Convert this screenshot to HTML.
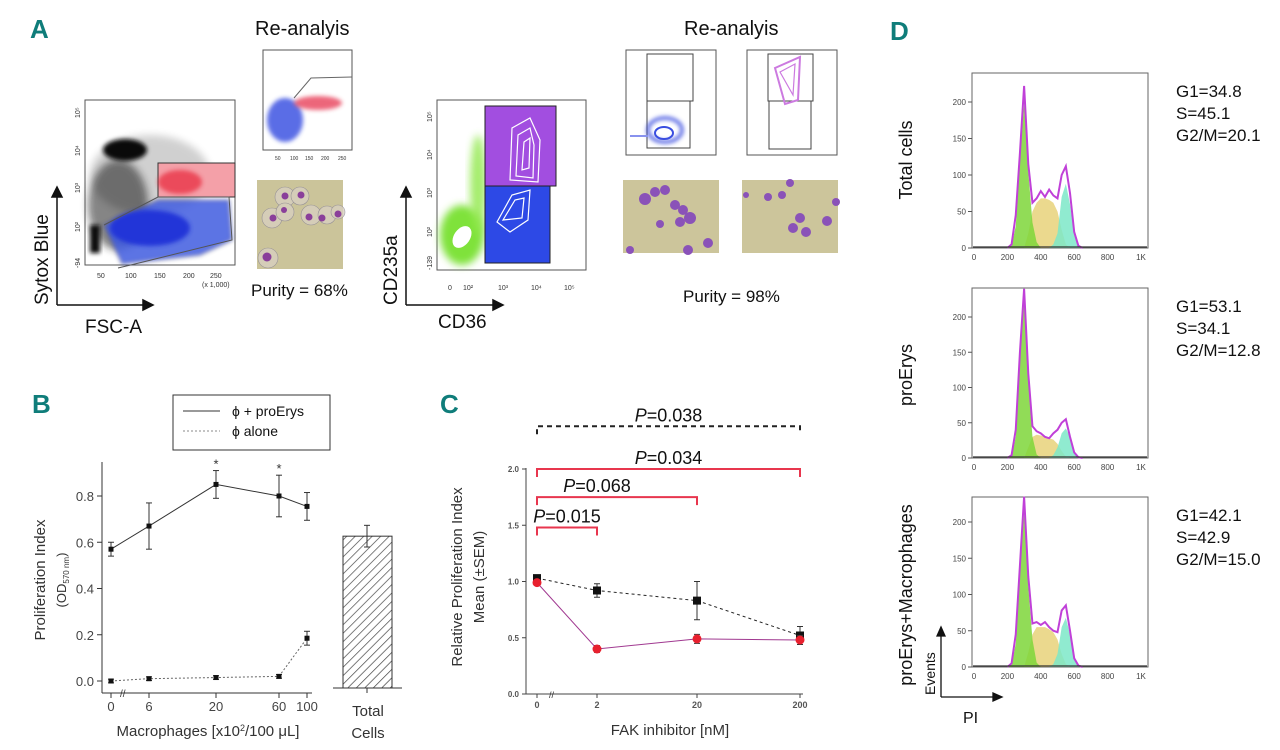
<!DOCTYPE html>
<html><head><meta charset="utf-8">
<style>
html,body{margin:0;padding:0;background:#fff;}
svg{display:block;font-family:"Liberation Sans",sans-serif;}
.pl{font-family:"Liberation Sans",sans-serif;font-weight:bold;fill:#0f7d7a;font-size:26px;}
.t{fill:#111;}
</style></head>
<body>
<svg id="fig" width="1280" height="750" viewBox="0 0 1280 750">
<defs>
<filter id="bl" x="-30%" y="-30%" width="160%" height="160%"><feGaussianBlur stdDeviation="4"/></filter>
<filter id="bl2" x="-30%" y="-30%" width="160%" height="160%"><feGaussianBlur stdDeviation="2"/></filter>
<pattern id="hatch" width="6" height="6" patternUnits="userSpaceOnUse" patternTransform="rotate(45)"><rect width="6" height="6" fill="#fff"/><line x1="0" y1="0" x2="0" y2="6" stroke="#444" stroke-width="1.4"/></pattern>
</defs>

<!-- PANEL A -->
<g>
<text class="pl" x="30" y="38">A</text>
<g>
<rect x="85" y="100" width="150" height="165" fill="#fff" stroke="#555" stroke-width="1"/>
<ellipse cx="118" cy="205" rx="30" ry="45" fill="#222" opacity="0.55" filter="url(#bl)"/>
<ellipse cx="125" cy="150" rx="22" ry="11" fill="#111" filter="url(#bl2)"/>
<ellipse cx="150" cy="175" rx="60" ry="40" fill="#000" opacity="0.18" filter="url(#bl)"/>
<rect x="90" y="225" width="10" height="28" fill="#111" filter="url(#bl2)"/>
<rect x="158" y="163" width="77" height="34" fill="#f4a0a8" stroke="#333" stroke-width="1"/>
<ellipse cx="180" cy="182" rx="22" ry="12" fill="#e8263a" opacity="0.7" filter="url(#bl2)"/>
<polygon points="104,225 158,200 229,200 232,240 200,255 122,264" fill="#3f5be0" opacity="0.85" stroke="#555" filter="url(#bl2)"/>
<ellipse cx="150" cy="228" rx="40" ry="18" fill="#2436d8" filter="url(#bl2)"/>
<polyline points="104,225 158,197 229,197 232,240 143,262 118,268" fill="none" stroke="#555" stroke-width="1"/>
<g font-size="7" fill="#333"><text x="97" y="278">50</text><text x="125" y="278">100</text><text x="154" y="278">150</text><text x="183" y="278">200</text><text x="210" y="278">250</text><text x="202" y="287">(x 1,000)</text></g>
<g font-size="7" fill="#333"><text transform="translate(80,118) rotate(-90)">10⁵</text><text transform="translate(80,156) rotate(-90)">10⁴</text><text transform="translate(80,193) rotate(-90)">10³</text><text transform="translate(80,232) rotate(-90)">10²</text><text transform="translate(80,268) rotate(-90)">-94</text></g>
</g>
<g stroke="#111" stroke-width="1.5" fill="#111">
<line x1="57" y1="305" x2="57" y2="195"/><polygon points="52,197 62,197 57,187"/>
<line x1="57" y1="305" x2="145" y2="305"/><polygon points="143,300 143,310 153,305"/>
</g>
<text class="t" font-size="19" transform="translate(48,305) rotate(-90)">Sytox Blue</text>
<text class="t" font-size="19" x="85" y="333">FSC-A</text>
<text class="t" font-size="20" x="255" y="35">Re-analyis</text>
<g>
<rect x="263" y="50" width="89" height="100" fill="#fff" stroke="#555"/>
<ellipse cx="285" cy="120" rx="18" ry="22" fill="#3248e0" opacity="0.8" filter="url(#bl2)"/>
<ellipse cx="318" cy="103" rx="24" ry="7" fill="#e8405a" opacity="0.8" filter="url(#bl2)"/>
<polyline points="294,98 311,78 352,77 M294,98 298,114 352,109" fill="none" stroke="#666"/>
<g font-size="5" fill="#333"><text x="275" y="160">50</text><text x="290" y="160">100</text><text x="305" y="160">150</text><text x="321" y="160">200</text><text x="338" y="160">250</text></g>
</g>
<g>
<rect x="257" y="180" width="86" height="89" fill="#cbc49a"/>
<g fill="#d8d0c0" stroke="#8a8595" stroke-width="0.6" opacity="0.8">
<circle cx="285" cy="197" r="10"/><circle cx="300" cy="196" r="9"/><circle cx="272" cy="218" r="10"/><circle cx="285" cy="212" r="9"/><circle cx="311" cy="215" r="10"/><circle cx="327" cy="215" r="9"/><circle cx="338" cy="212" r="7"/><circle cx="268" cy="258" r="10"/></g>
<g fill="#8a3f9a"><circle cx="285" cy="196" r="3.5"/><circle cx="301" cy="195" r="3.5"/><circle cx="273" cy="218" r="3.5"/><circle cx="284" cy="210" r="3"/><circle cx="309" cy="217" r="3.5"/><circle cx="322" cy="218" r="3.5"/><circle cx="338" cy="214" r="3.5"/><circle cx="267" cy="257" r="4.5"/></g>
</g>
<text class="t" font-size="17" x="251" y="296">Purity = 68%</text>

<g>
<rect x="437" y="100" width="149" height="170" fill="#fff" stroke="#555"/>
<ellipse cx="462" cy="235" rx="22" ry="30" fill="#7fe23a" filter="url(#bl)"/>
<ellipse cx="478" cy="185" rx="8" ry="50" fill="#8fe84a" opacity="0.8" filter="url(#bl)"/>
<ellipse cx="462" cy="237" rx="8" ry="12" fill="#fff" transform="rotate(35 462 237)"/>
<rect x="485" y="106" width="71" height="80" fill="#a24ee0"/>
<rect x="485" y="186" width="65" height="77" fill="#2d49e6"/>
<g fill="none" stroke="#fff" stroke-width="1.2">
<path d="M510,180 L512,128 L530,118 L540,140 L538,182Z"/><path d="M516,176 L518,135 L530,128 L534,145 L533,178Z"/><path d="M522,170 L524,142 L530,138 L529,168Z"/>
<path d="M497,222 L512,195 L530,190 L528,220 L510,232Z"/><path d="M503,220 L515,200 L524,198 L522,218Z"/>
</g>
<rect x="485" y="106" width="71" height="80" fill="none" stroke="#222"/>
<rect x="485" y="186" width="65" height="77" fill="none" stroke="#222"/>
<g font-size="7" fill="#333"><text x="448" y="290">0</text><text x="463" y="290">10²</text><text x="498" y="290">10³</text><text x="531" y="290">10⁴</text><text x="564" y="290">10⁵</text></g>
<g font-size="7" fill="#333"><text transform="translate(432,122) rotate(-90)">10⁵</text><text transform="translate(432,160) rotate(-90)">10⁴</text><text transform="translate(432,198) rotate(-90)">10³</text><text transform="translate(432,237) rotate(-90)">10²</text><text transform="translate(432,270) rotate(-90)">-139</text></g>
</g>
<g stroke="#111" stroke-width="1.5" fill="#111">
<line x1="406" y1="305" x2="406" y2="195"/><polygon points="401,197 411,197 406,187"/>
<line x1="406" y1="305" x2="495" y2="305"/><polygon points="493,300 493,310 503,305"/>
</g>
<text class="t" font-size="19" transform="translate(397,305) rotate(-90)">CD235a</text>
<text class="t" font-size="19" x="438" y="328">CD36</text>
<text class="t" font-size="20" x="684" y="35">Re-analyis</text>
<g>
<rect x="626" y="50" width="90" height="105" fill="#fff" stroke="#555"/>
<rect x="647" y="54" width="46" height="47" fill="none" stroke="#444"/>
<rect x="647" y="101" width="43" height="47" fill="none" stroke="#444"/>
<ellipse cx="665" cy="130" rx="17" ry="12" fill="none" stroke="#3a4ee0" stroke-width="3" filter="url(#bl2)"/>
<ellipse cx="664" cy="133" rx="9" ry="6" fill="none" stroke="#3a4ee0" stroke-width="2"/>
<line x1="630" y1="136" x2="648" y2="136" stroke="#8892ee" stroke-width="2"/>
</g>
<g>
<rect x="747" y="50" width="90" height="105" fill="#fff" stroke="#555"/>
<rect x="768" y="54" width="45" height="47" fill="none" stroke="#444"/>
<rect x="769" y="101" width="42" height="48" fill="none" stroke="#444"/>
<polygon points="775,68 800,57 798,100 785,104" fill="none" stroke="#cc7ae0" stroke-width="2"/>
<polygon points="780,72 795,64 793,95" fill="none" stroke="#cc7ae0" stroke-width="1.2"/>
</g>
<g>
<rect x="623" y="180" width="96" height="73" fill="#ccc59b"/>
<g fill="#8a52b8"><circle cx="645" cy="199" r="6"/><circle cx="655" cy="192" r="5"/><circle cx="665" cy="190" r="5"/><circle cx="675" cy="205" r="5"/><circle cx="683" cy="210" r="5"/><circle cx="690" cy="218" r="6"/><circle cx="680" cy="222" r="5"/><circle cx="660" cy="224" r="4"/><circle cx="708" cy="243" r="5"/><circle cx="688" cy="250" r="5"/><circle cx="630" cy="250" r="4"/></g>
</g>
<g>
<rect x="742" y="180" width="96" height="73" fill="#ccc59b"/>
<g fill="#8a52b8"><circle cx="746" cy="195" r="3"/><circle cx="768" cy="197" r="4"/><circle cx="782" cy="195" r="4"/><circle cx="790" cy="183" r="4"/><circle cx="800" cy="218" r="5"/><circle cx="793" cy="228" r="5"/><circle cx="806" cy="232" r="5"/><circle cx="827" cy="221" r="5"/><circle cx="836" cy="202" r="4"/></g>
</g>
<text class="t" font-size="17" x="683" y="302">Purity = 98%</text>
</g>

<!-- PANEL B -->
<g id="panelB">
<text class="pl" x="32" y="413">B</text>
<g>
<rect x="173" y="395" width="157" height="55" fill="#fff" stroke="#333"/>
<line x1="183" y1="411" x2="220" y2="411" stroke="#333" stroke-width="1"/>
<line x1="183" y1="431" x2="220" y2="431" stroke="#888" stroke-width="1" stroke-dasharray="2,2"/>
<text x="232" y="416" font-size="14" fill="#111">ϕ + proErys</text>
<text x="232" y="436" font-size="14" fill="#111">ϕ alone</text>
</g>
<text font-size="15" fill="#333" transform="translate(45,580) rotate(-90)" text-anchor="middle">Proliferation Index</text>
<text font-size="13" fill="#333" transform="translate(66,580) rotate(-90)" text-anchor="middle">(OD<tspan font-size="8" dy="3">570 nm</tspan><tspan dy="-3">)</tspan></text>
<text font-size="15" fill="#333" x="208" y="736" text-anchor="middle">Macrophages [x10<tspan font-size="9" dy="-5">2</tspan><tspan dy="5">/100 μL]</tspan></text>
<text font-size="15" fill="#333" x="368" y="716" text-anchor="middle">Total</text>
<text font-size="15" fill="#333" x="368" y="738" text-anchor="middle">Cells</text>
</g>

<!-- PANEL C -->
<g id="panelC">
<text class="pl" x="440" y="413">C</text>
<text font-size="15" fill="#333" transform="translate(462,577) rotate(-90)" text-anchor="middle">Relative Proliferation Index</text>
<text font-size="15" fill="#333" transform="translate(484,577) rotate(-90)" text-anchor="middle">Mean (±SEM)</text>
<text font-size="15" fill="#333" x="670" y="735" text-anchor="middle">FAK inhibitor [nM]</text>
</g>

<!-- PANEL D -->
<g id="panelD">
<text class="pl" x="890" y="40">D</text>
<text font-size="18" fill="#111" transform="translate(912,160) rotate(-90)" text-anchor="middle">Total cells</text>
<text font-size="18" fill="#111" transform="translate(912,375) rotate(-90)" text-anchor="middle">proErys</text>
<text font-size="18" fill="#111" transform="translate(912,595) rotate(-90)" text-anchor="middle">proErys+Macrophages</text>
<g stroke="#111" stroke-width="1.3" fill="#111">
<line x1="941" y1="697" x2="941" y2="634"/><polygon points="937,636 945,636 941,627"/>
<line x1="941" y1="697" x2="995" y2="697"/><polygon points="993,693 993,701 1002,697"/>
</g>
<text font-size="14" fill="#111" transform="translate(935,695) rotate(-90)">Events</text>
<text font-size="16" fill="#111" x="963" y="723">PI</text>
</g>
</svg>
<script>
// ===== Panel B data =====
const bCategories = ["0","6","20","60","100"];
const bCombined = [0.57, 0.67, 0.85, 0.80, 0.755];
const bCombinedErr = [0.03, 0.10, 0.06, 0.09, 0.06];
const bAlone = [0.0, 0.01, 0.015, 0.02, 0.185];
const bAloneErr = [0.008, 0.008, 0.008, 0.008, 0.03];
const bTotalCells = [0.63];
const bTotalErr = [0.045];
const bYTicks = ["0.0","0.2","0.4","0.6","0.8"];
const bStars = [false, false, true, true, false];

// ===== Panel C data =====
const cCategories = ["0","2","20","200"];
const cBlack = [1.03, 0.92, 0.83, 0.52];
const cBlackErr = [0.02, 0.06, 0.17, 0.08];
const cRed = [0.99, 0.40, 0.49, 0.48];
const cRedErr = [0.02, 0.03, 0.04, 0.04];
const cYTicks = ["0.0","0.5","1.0","1.5","2.0"];
const cBracketLabels = ["P=0.038","P=0.034","P=0.068","P=0.015"];
const cBracketEnd = [3, 3, 2, 1];
const cBracketLevel = [2.38, 2.0, 1.75, 1.48];

// ===== Panel D data (PI histogram, bins 200..650 step 25) =====
const dBins = [200,225,250,275,300,325,350,375,400,425,450,475,500,525,550,575,600,625,650];
const dTotal1 = [0,5,45,130,222,115,62,68,78,70,80,72,68,100,112,75,22,3,0];
const dG1_1 = [0,3,30,120,200,105,35,8,0,0,0,0,0,0,0,0,0,0,0];
const dS_1 = [0,0,0,0,0,20,50,62,68,68,66,62,50,25,5,0,0,0,0];
const dG2_1 = [0,0,0,0,0,0,0,0,0,0,0,5,20,70,88,60,18,2,0];
const dTotal2 = [0,4,40,150,240,120,45,38,35,30,28,35,40,50,55,30,8,1,0];
const dG1_2 = [0,2,30,140,225,110,30,5,0,0,0,0,0,0,0,0,0,0,0];
const dS_2 = [0,0,0,0,0,15,30,33,32,30,28,26,20,10,2,0,0,0,0];
const dG2_2 = [0,0,0,0,0,0,0,0,0,0,0,4,15,35,42,30,8,1,0];
const dTotal3 = [0,5,45,140,235,125,60,62,58,62,55,50,48,78,85,50,12,2,0];
const dG1_3 = [0,3,32,130,215,112,38,6,0,0,0,0,0,0,0,0,0,0,0];
const dS_3 = [0,0,0,0,0,20,45,55,55,55,52,48,38,18,4,0,0,0,0];
const dG2_3 = [0,0,0,0,0,0,0,0,0,0,0,4,18,55,68,45,12,1,0];
const dXTicks = ["0","200","400","600","800","1K"];
const dYTicks = ["0","50","100","150","200"];
const dStatsLabels = [["G1=34.8","S=45.1","G2/M=20.1"],["G1=53.1","S=34.1","G2/M=12.8"],["G1=42.1","S=42.9","G2/M=15.0"]];

const NS = "http://www.w3.org/2000/svg";
function mk(tag, attrs, parent){const e=document.createElementNS(NS,tag);for(const k in attrs)e.setAttribute(k,attrs[k]);parent.appendChild(e);return e;}

// ---------- Panel B ----------
(function(){
  const g = document.getElementById("panelB");
  const bX = [111,149,216,279,307];
  const y = v => 681 - v*231.25;
  const axis = mk("g",{},g);
  
  
  mk("line",{x1:102,y1:462,x2:102,y2:693,stroke:"#333","stroke-width":1},axis);
  mk("line",{x1:102,y1:693,x2:312,y2:693,stroke:"#333","stroke-width":1},axis);
  bYTicks.forEach((t,i)=>{const v=parseFloat(t);const yy=y(v);
    mk("line",{x1:97,y1:yy,x2:102,y2:yy,stroke:"#333"},axis);
    const tx=mk("text",{x:94,y:yy+5,"font-size":13,fill:"#444","text-anchor":"end"},axis);tx.textContent=t;
    
    });
  bCategories.forEach((c,i)=>{
    mk("line",{x1:bX[i],y1:693,x2:bX[i],y2:698,stroke:"#333"},axis);
    const tx=mk("text",{x:bX[i],y:711,"font-size":13,fill:"#444","text-anchor":"middle"},axis);tx.textContent=c;
    
    });
  const brk=mk("text",{x:120,y:697,"font-size":10,fill:"#333"},axis);brk.textContent="//";
  function series(vals,errs,dash,name){
    const sg=mk("g",{},g);
    
    
    mk("polyline",{points:vals.map((v,i)=>bX[i]+","+y(v)).join(" "),fill:"none",stroke:dash?"#666":"#333","stroke-width":1,"stroke-dasharray":dash?"2,2":"none"},sg);
    vals.forEach((v,i)=>{
      mk("line",{x1:bX[i],y1:y(v+errs[i]),x2:bX[i],y2:y(v-errs[i]),stroke:"#333"},sg);
      mk("line",{x1:bX[i]-3,y1:y(v+errs[i]),x2:bX[i]+3,y2:y(v+errs[i]),stroke:"#333"},sg);
      mk("line",{x1:bX[i]-3,y1:y(v-errs[i]),x2:bX[i]+3,y2:y(v-errs[i]),stroke:"#333"},sg);
      const p=mk("rect",{x:bX[i]-2.5,y:y(v)-2.5,width:5,height:5,fill:"#111"},sg);
      
      
    });
  }
  series(bCombined,bCombinedErr,false,"series-macrophage-proerys");
  series(bAlone,bAloneErr,true,"series-macrophage-alone");
  bStars.forEach((s,i)=>{if(!s)return;const st=mk("text",{x:bX[i],y:y(bCombined[i]+bCombinedErr[i])-2,"font-size":13,fill:"#333","text-anchor":"middle"},g);st.textContent="*";
    
    });
  // bar
  const yb = v => 688 - v*241;
  mk("line",{x1:333,y1:688,x2:402,y2:688,stroke:"#333"},g);
  const bar=mk("rect",{x:343,y:yb(bTotalCells[0]),width:49,height:bTotalCells[0]*241,fill:"url(#hatch)",stroke:"#333"},g);
  
  
  const bt=yb(bTotalCells[0]+bTotalErr[0]), bb=yb(bTotalCells[0]-bTotalErr[0]);
  mk("line",{x1:367,y1:bt,x2:367,y2:bb,stroke:"#333"},g);
  mk("line",{x1:364,y1:bt,x2:370,y2:bt,stroke:"#333"},g);
  mk("line",{x1:364,y1:bb,x2:370,y2:bb,stroke:"#333"},g);
  mk("line",{x1:367,y1:688,x2:367,y2:693,stroke:"#333"},g);
})();

// ---------- Panel C ----------
(function(){
  const g=document.getElementById("panelC");
  const cX=[537,597,697,800];
  const y=v=>694-v*112.5;
  const axis=mk("g",{},g);
  
  
  mk("line",{x1:526,y1:468,x2:526,y2:694,stroke:"#444"},axis);
  mk("line",{x1:526,y1:694,x2:803,y2:694,stroke:"#444"},axis);
  cYTicks.forEach(t=>{const yy=y(parseFloat(t));
    mk("line",{x1:522,y1:yy,x2:526,y2:yy,stroke:"#444"},axis);
    const tx=mk("text",{x:519,y:yy+3,"font-size":8,"font-weight":"bold",fill:"#555","text-anchor":"end"},axis);tx.textContent=t;
    
    });
  cCategories.forEach((c,i)=>{
    mk("line",{x1:cX[i],y1:694,x2:cX[i],y2:698,stroke:"#444"},axis);
    const tx=mk("text",{x:cX[i],y:708,"font-size":9,"font-weight":"bold",fill:"#555","text-anchor":"middle"},axis);tx.textContent=c;
    
    });
  const brk=mk("text",{x:549,y:698,"font-size":9,fill:"#333"},axis);brk.textContent="//";
  // brackets
  cBracketLabels.forEach((lab,i)=>{
    const yy=y(cBracketLevel[i]); const x2=cX[cBracketEnd[i]];
    const col=i===0?"#222":"#e8364e";
    const bg=mk("g",{},g);
    
    
    mk("path",{d:`M${cX[0]},${yy+8} L${cX[0]},${yy} L${x2},${yy} L${x2},${yy+8}`,fill:"none",stroke:col,"stroke-width":2,"stroke-dasharray":i===0?"5,4":"none"},bg);
    const mid=i===3?567:(cX[0]+x2)/2+ (i===2?-20:0);
    const tx=mk("text",{x:mid,y:yy-5,"font-size":18,fill:"#111","text-anchor":"middle"},bg);
    tx.innerHTML='<tspan font-style="italic">P</tspan>'+lab.slice(1);
  });
  function series(vals,errs,col,lineCol,dash,circle,name){
    const sg=mk("g",{},g);
    
    
    mk("polyline",{points:vals.map((v,i)=>cX[i]+","+y(v)).join(" "),fill:"none",stroke:lineCol,"stroke-width":1,"stroke-dasharray":dash?"3,3":"none"},sg);
    vals.forEach((v,i)=>{
      mk("line",{x1:cX[i],y1:y(v+errs[i]),x2:cX[i],y2:y(v-errs[i]),stroke:"#333"},sg);
      mk("line",{x1:cX[i]-3,y1:y(v+errs[i]),x2:cX[i]+3,y2:y(v+errs[i]),stroke:"#333"},sg);
      mk("line",{x1:cX[i]-3,y1:y(v-errs[i]),x2:cX[i]+3,y2:y(v-errs[i]),stroke:"#333"},sg);
      const p=circle?mk("circle",{cx:cX[i],cy:y(v),r:4.5,fill:col},sg):mk("rect",{x:cX[i]-4,y:y(v)-4,width:8,height:8,fill:col},sg);
      
      
    });
  }
  series(cBlack,cBlackErr,"#111","#222",true,false,"series-control");
  series(cRed,cRedErr,"#e8202e","#a03890",false,true,"series-fak-treated");
})();

// ---------- Panel D ----------
(function(){
  const g=document.getElementById("panelD");
  const plots=[{top:73,zero:248,y200:102},{top:288,zero:458,y200:317},{top:497,zero:667,y200:522}];
  const sets=[[dTotal1,dG1_1,dS_1,dG2_1],[dTotal2,dG1_2,dS_2,dG2_2],[dTotal3,dG1_3,dS_3,dG2_3]];
  const x=v=>974+v*0.167;
  plots.forEach((p,k)=>{
    const y=v=>p.zero-v*(p.zero-p.y200)/200;
    const pg=mk("g",{},g);
    
    
    mk("rect",{x:972,y:p.top,width:176,height:p.zero-p.top,fill:"#fff",stroke:"#666"},pg);
    const area=(arr,fill)=>{let d=`M${x(dBins[0])},${y(0)} `+arr.map((v,i)=>`L${x(dBins[i])},${y(v)}`).join(" ")+` L${x(dBins[dBins.length-1])},${y(0)}Z`;
      const a=mk("path",{d:d,fill:fill,opacity:0.85},pg);return a;};
    const s=area(sets[k][2],"#e8d27a");
    
    const g2=area(sets[k][3],"#7de8c8");
    
    const g1=area(sets[k][1],"#7ed63a");
    
    const tl=mk("polyline",{points:sets[k][0].map((v,i)=>x(dBins[i])+","+y(v)).join(" "),fill:"none",stroke:"#c040d8","stroke-width":2},pg);
    
    
    mk("line",{x1:973,y1:p.zero-1,x2:1147,y2:p.zero-1,stroke:"#333","stroke-width":1.3},pg);
    dYTicks.forEach(t=>{const yy=y(parseFloat(t));
      mk("line",{x1:968,y1:yy,x2:972,y2:yy,stroke:"#555"},pg);
      const tx=mk("text",{x:966,y:yy+3,"font-size":8,fill:"#444","text-anchor":"end"},pg);tx.textContent=t;
      
      });
    dXTicks.forEach((t,i)=>{const xx=x(i*200);
      const tx=mk("text",{x:xx,y:p.zero+12,"font-size":8,fill:"#444","text-anchor":"middle"},pg);tx.textContent=t;
      
      });
    dStatsLabels[k].forEach((s,i)=>{
      const tx=mk("text",{x:1176,y:p.top+24+i*22,"font-size":17,fill:"#111"},g);tx.textContent=s;
      
      });
  });
})();
</script>
</body></html>
